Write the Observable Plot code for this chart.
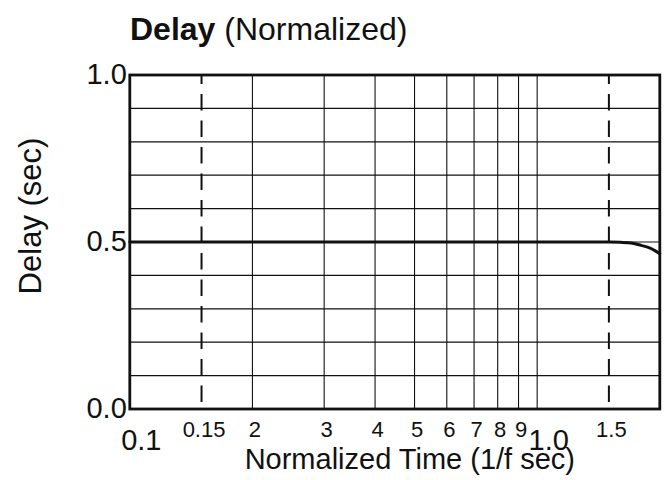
<!DOCTYPE html>
<html>
<head>
<meta charset="utf-8">
<script src="https://cdn.jsdelivr.net/npm/d3@7"></script>
<script src="https://cdn.jsdelivr.net/npm/@observablehq/plot@0.6"></script>
<style>
  html, body { margin: 0; padding: 0; background: white; }
  #title {
    height: 50px; box-sizing: border-box;
    padding-top: 12.9px; padding-left: 130px;
    font-family: 'Liberation Sans', Arial, sans-serif;
    font-size: 32px; line-height: 32px; color: #111;
    white-space: nowrap;
  }
  #title b { font-weight: bold; }
</style>
</head>
<body>
<div id="title"><b>Delay</b> (Normalized)</div>
<div id="chart"></div>
<script>
// ---- data ----
const timeValues  = [0.1, 1.5, 1.6, 1.7, 1.8, 1.9, 2.0];
const delayValues = [0.5, 0.5, 0.499, 0.497, 0.490, 0.481, 0.465];

const xGridSolid   = [0.2, 0.3, 0.4, 0.5, 0.6, 0.7, 0.8, 0.9, 1.0];
const xGridDashed  = [0.15, 1.5];
const yGrid        = [0.1, 0.2, 0.3, 0.4, 0.5, 0.6, 0.7, 0.8, 0.9];

const xMinorTicks  = [0.15, 0.2, 0.3, 0.4, 0.5, 0.6, 0.7, 0.8, 0.9, 1.5];
const xMinorLabels = ["0.15", "2", "3", "4", "5", "6", "7", "8", "9", "1.5"];
const xMajorTicks  = [0.1, 1.0];
const xMajorLabels = ["0.1", "1.0"];
const yTicks       = [1.0, 0.5, 0.0];
const yTickLabels  = ["1.0", "0.5", "0.0"];

const xTitle = "Normalized Time (1/f sec)";
const yTitle = "Delay (sec)";

const series = timeValues.map((t, i) => ({t, d: delayValues[i]}));

const chart = Plot.plot({
  width: 668,
  height: 430,
  marginLeft: 129.3,
  marginRight: 8.7,
  marginTop: 24.5,
  marginBottom: 71.5,
  style: {fontFamily: "'Liberation Sans', Arial, sans-serif", background: "white", color: "#111", overflow: "visible"},
  x: {type: "log", domain: [0.1, 2], axis: null},
  y: {domain: [0, 1], axis: null},
  marks: [
    Plot.ruleY(yGrid, {y: d => d, stroke: "#111", strokeWidth: 1.2}),
    Plot.ruleX(xGridSolid, {x: d => d, stroke: "#111", strokeWidth: 1.1}),
    Plot.ruleX(xGridDashed, {x: d => d, stroke: "#111", strokeWidth: 2, strokeDasharray: "16.5,10", strokeDashoffset: 7}),
    Plot.line(series, {x: "t", y: "d", stroke: "#111", strokeWidth: 3, curve: "monotone-x"}),
    Plot.frame({stroke: "#111", strokeWidth: 2.8}),
    // x tick labels
    Plot.text(xMinorTicks, {x: d => d, text: (d, i) => xMinorLabels[i], frameAnchor: "bottom", textAnchor: "middle", lineAnchor: "bottom", dy: 27.5, dx: 2.5, fontSize: 22, fill: "#111"}),
    Plot.text(xMajorTicks, {x: d => d, text: (d, i) => xMajorLabels[i], frameAnchor: "bottom", textAnchor: "middle", lineAnchor: "bottom", dy: 40.5, dx: 11.5, fontSize: 29, fill: "#111"}),
    // y tick labels
    Plot.text(yTicks, {y: d => d, text: (d, i) => yTickLabels[i], frameAnchor: "left", textAnchor: "end", lineAnchor: "middle", dx: -3, fontSize: 29, fill: "#111"}),
    // axis titles
    Plot.text([xTitle], {text: d => d, frameAnchor: "bottom", textAnchor: "middle", lineAnchor: "bottom", dy: 59.5, dx: 15, fontSize: 29, fill: "#111"}),
    Plot.text([yTitle], {text: d => d, frameAnchor: "left", textAnchor: "middle", lineAnchor: "bottom", rotate: -90, dx: -89.3, dy: -26, fontSize: 31, fill: "#111"})
  ]
});
document.getElementById("chart").appendChild(chart);
</script>
</body>
</html>
